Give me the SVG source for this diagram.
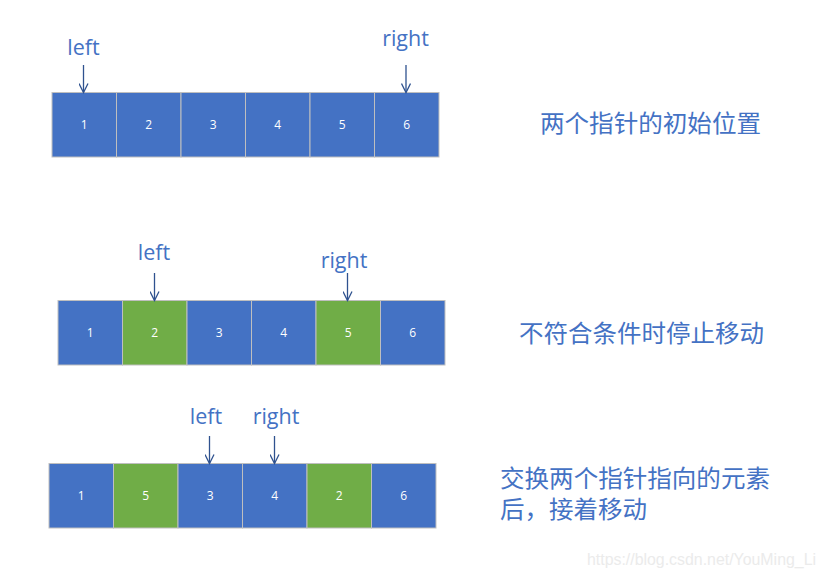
<svg xmlns="http://www.w3.org/2000/svg" width="825" height="576" viewBox="0 0 825 576">
<defs>
<style>
.b{fill:#4472C4;stroke:#BFBFBF;stroke-width:1}
.g{fill:#70AD47;stroke:#BFBFBF;stroke-width:1}
.n{fill:#FFFFFF;font-family:"Open Sans","Liberation Sans",sans-serif;font-size:12px;text-anchor:middle}
.p{fill:#4472C4;font-family:"Open Sans","Liberation Sans",sans-serif;font-size:21.5px;text-anchor:middle}
.c{fill:#4472C4;font-family:"Noto Sans CJK SC","Noto Sans",sans-serif;font-size:24px}
.a{stroke:#2F528F;stroke-width:1.3;fill:none}
.w{fill:#EBEBEB;font-family:"Liberation Sans",sans-serif;font-size:16px}
</style>
<marker id="ah" markerWidth="12" markerHeight="10" refX="10" refY="5" orient="auto" markerUnits="userSpaceOnUse">
<path d="M1,0.5 L10,5 L1,9.5" fill="none" stroke="#2F528F" stroke-width="1.3"/>
</marker>
</defs>
<rect width="825" height="576" fill="#FFFFFF"/>

<g id="row1">
<g id="r1c1"><rect class="b" x="52" y="92.5" width="64.5" height="64.5"/><text class="n" x="84.25" y="129">1</text></g>
<g id="r1c2"><rect class="b" x="116.5" y="92.5" width="64.5" height="64.5"/><text class="n" x="148.75" y="129">2</text></g>
<g id="r1c3"><rect class="b" x="181" y="92.5" width="64.5" height="64.5"/><text class="n" x="213.25" y="129">3</text></g>
<g id="r1c4"><rect class="b" x="245.5" y="92.5" width="64.5" height="64.5"/><text class="n" x="277.75" y="129">4</text></g>
<g id="r1c5"><rect class="b" x="310" y="92.5" width="64.5" height="64.5"/><text class="n" x="342.25" y="129">5</text></g>
<g id="r1c6"><rect class="b" x="374.5" y="92.5" width="64.5" height="64.5"/><text class="n" x="406.75" y="129">6</text></g>
<g id="r1left"><text class="p" x="83.5" y="55">left</text></g>
<g id="r1right"><text class="p" x="405.5" y="46">right</text></g>
<g id="r1label"><text class="c" x="540" y="132" textLength="221" lengthAdjust="spacingAndGlyphs">两个指针的初始位置</text></g>
</g>

<g id="row2">
<g id="r2c1"><rect class="b" x="58" y="300.5" width="64.5" height="64.5"/><text class="n" x="90.25" y="337">1</text></g>
<g id="r2c2"><rect class="g" x="122.5" y="300.5" width="64.5" height="64.5"/><text class="n" x="154.75" y="337">2</text></g>
<g id="r2c3"><rect class="b" x="187" y="300.5" width="64.5" height="64.5"/><text class="n" x="219.25" y="337">3</text></g>
<g id="r2c4"><rect class="b" x="251.5" y="300.5" width="64.5" height="64.5"/><text class="n" x="283.75" y="337">4</text></g>
<g id="r2c5"><rect class="g" x="316" y="300.5" width="64.5" height="64.5"/><text class="n" x="348.25" y="337">5</text></g>
<g id="r2c6"><rect class="b" x="380.5" y="300.5" width="64.5" height="64.5"/><text class="n" x="412.75" y="337">6</text></g>
<g id="r2left"><text class="p" x="154" y="260">left</text></g>
<g id="r2right"><text class="p" x="344" y="268">right</text></g>
<g id="r2label"><text class="c" x="519" y="342" textLength="245" lengthAdjust="spacingAndGlyphs">不符合条件时停止移动</text></g>
</g>

<g id="row3">
<g id="r3c1"><rect class="b" x="49" y="463.5" width="64.5" height="64.5"/><text class="n" x="81.25" y="500">1</text></g>
<g id="r3c2"><rect class="g" x="113.5" y="463.5" width="64.5" height="64.5"/><text class="n" x="145.75" y="500">5</text></g>
<g id="r3c3"><rect class="b" x="178" y="463.5" width="64.5" height="64.5"/><text class="n" x="210.25" y="500">3</text></g>
<g id="r3c4"><rect class="b" x="242.5" y="463.5" width="64.5" height="64.5"/><text class="n" x="274.75" y="500">4</text></g>
<g id="r3c5"><rect class="g" x="307" y="463.5" width="64.5" height="64.5"/><text class="n" x="339.25" y="500">2</text></g>
<g id="r3c6"><rect class="b" x="371.5" y="463.5" width="64.5" height="64.5"/><text class="n" x="403.75" y="500">6</text></g>
<g id="r3left"><text class="p" x="206" y="424">left</text></g>
<g id="r3right"><text class="p" x="276" y="424">right</text></g>
<g id="r3label"><text class="c"><tspan x="500" y="487" textLength="270" lengthAdjust="spacingAndGlyphs">交换两个指针指向的元素</tspan><tspan x="500" y="518" textLength="147" lengthAdjust="spacingAndGlyphs">后，接着移动</tspan></text></g>
</g>

<g id="connectors">
<line class="a" x1="83.5" y1="65" x2="83.5" y2="92.5" marker-end="url(#ah)"/>
<line class="a" x1="406" y1="65" x2="406" y2="92.5" marker-end="url(#ah)"/>
<line class="a" x1="154.5" y1="273" x2="154.5" y2="300.5" marker-end="url(#ah)"/>
<line class="a" x1="347.5" y1="273" x2="347.5" y2="300.5" marker-end="url(#ah)"/>
<line class="a" x1="209.5" y1="436" x2="209.5" y2="463.5" marker-end="url(#ah)"/>
<line class="a" x1="274.5" y1="436" x2="274.5" y2="463.5" marker-end="url(#ah)"/>
</g>

<text class="w" x="587" y="565" textLength="229" lengthAdjust="spacingAndGlyphs">https://blog.csdn.net/YouMing_Li</text>
</svg>
